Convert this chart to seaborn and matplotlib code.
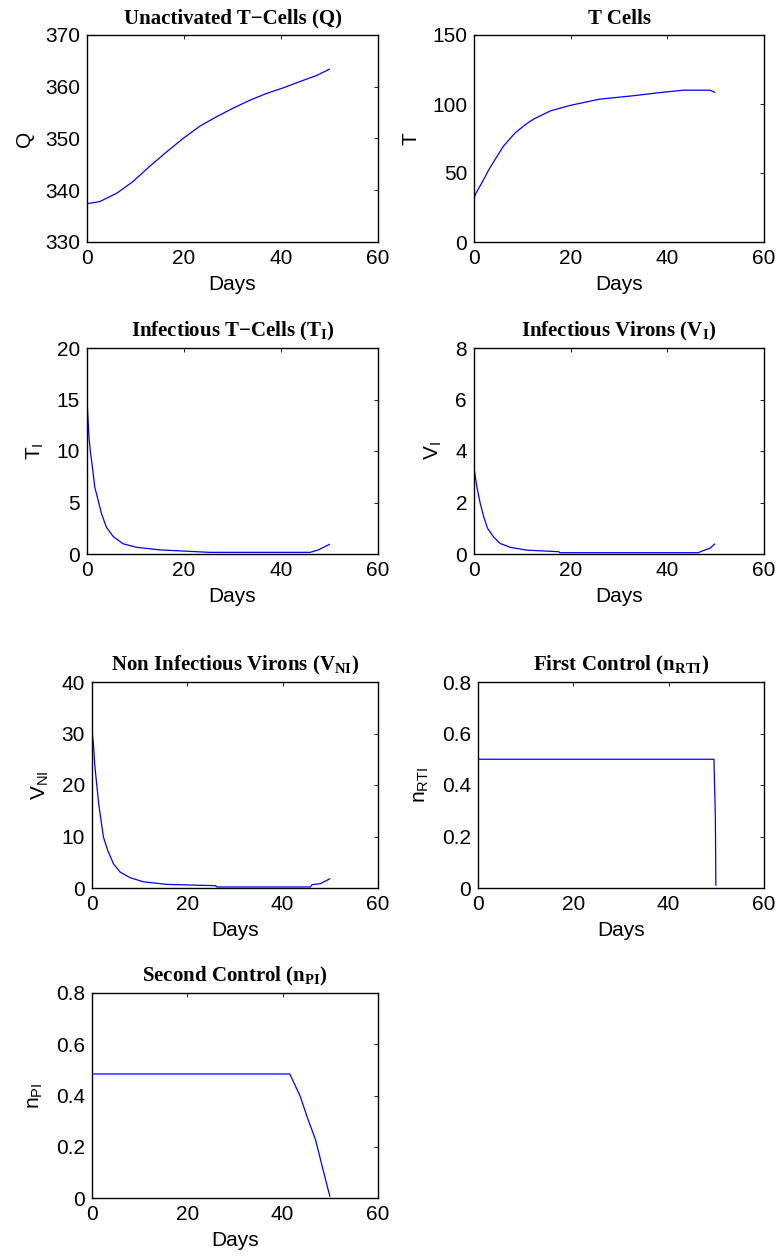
import matplotlib
matplotlib.use("Agg")
import matplotlib.pyplot as plt
import seaborn as sns

# data
q_days = [0, 2.6, 6.1, 9.5, 12.9, 16.4, 19.8, 23.3, 26.7, 30.2, 33.6, 37, 40.5, 43.9, 47.4, 50]
q_vals = [337.4, 337.8, 339.4, 341.7, 344.6, 347.4, 350, 352.4, 354.2, 355.9, 357.4, 358.7, 359.8, 361, 362.2, 363.4]

t_days = [0, 0.5, 1, 2, 3, 4.4, 6.1, 8.5, 10.6, 12.3, 15.8, 19.9, 26, 33, 38.5, 43.3, 48.8, 49.8]
t_vals = [32, 36, 39, 45.3, 52, 60, 69.5, 79, 85, 89, 95, 99, 103.5, 106, 108.3, 110, 110, 108.5]

ti_days = [0, 0.2, 0.4, 0.7, 1.1, 1.6, 2.3, 3, 4, 5.4, 7.4, 10.2, 15, 25.3, 46, 47.7, 50]
ti_vals = [14.9, 13.2, 11.4, 9.9, 8.5, 6.5, 5.2, 3.9, 2.6, 1.7, 1.0, 0.65, 0.4, 0.16, 0.16, 0.4, 0.94]

vi_days = [0, 0.07, 0.6, 1.3, 2, 2.8, 4.1, 5.4, 7.5, 10.9, 17.5, 17.8, 46.4, 47.4, 48.8, 49.8]
vi_vals = [7.1, 3.26, 2.6, 1.96, 1.45, 1.0, 0.65, 0.41, 0.26, 0.15, 0.09, 0.05, 0.05, 0.13, 0.22, 0.39]

vni_days = [0, 0.35, 0.56, 0.9, 1.4, 1.9, 2.4, 3.3, 4.5, 5.9, 8, 10.8, 15.7, 25.9, 26.2, 45.8, 46.2, 47.9, 49.9]
vni_vals = [30.6, 27.4, 24.1, 20.9, 16.4, 13.1, 9.9, 7.3, 4.7, 3.1, 2.0, 1.2, 0.7, 0.45, 0.2, 0.2, 0.65, 0.84, 1.8]

nrti_days = [0, 49.5, 49.8, 49.9]
nrti_vals = [0.5, 0.5, 0.27, 0.01]

npi_days = [0, 41.5, 43.7, 45.1, 46.9, 48.3, 49.9]
npi_vals = [0.484, 0.484, 0.396, 0.318, 0.227, 0.123, 0.006]

panels = [
    ("Unactivated T\u2212Cells (Q)", "Q", q_days, q_vals, (330, 370), [330, 340, 350, 360, 370]),
    ("T Cells", "T", t_days, t_vals, (0, 150), [0, 50, 100, 150]),
    ("Infectious T\u2212Cells ($\\mathregular{T_I}$)", "$\\mathregular{T_I}$", ti_days, ti_vals, (0, 20), [0, 5, 10, 15, 20]),
    ("Infectious Virons ($\\mathregular{V_I}$)", "$\\mathregular{V_I}$", vi_days, vi_vals, (0, 8), [0, 2, 4, 6, 8]),
    ("Non Infectious Virons ($\\mathregular{V_{NI}}$)", "$\\mathregular{V_{NI}}$", vni_days, vni_vals, (0, 40), [0, 10, 20, 30, 40]),
    ("First Control ($\\mathregular{n_{RTI}}$)", "$\\mathregular{n_{RTI}}$", nrti_days, nrti_vals, (0, 0.8), [0, 0.2, 0.4, 0.6, 0.8]),
    ("Second Control ($\\mathregular{n_{PI}}$)", "$\\mathregular{n_{PI}}$", npi_days, npi_vals, (0, 0.8), [0, 0.2, 0.4, 0.6, 0.8]),
]

# axes boxes in pixels: left, top, right, bottom
boxes = [
    (87, 35, 378, 242), (474, 35, 764, 242),
    (87, 348, 378, 554), (474, 348, 764, 554),
    (92, 682, 378, 888), (478, 682, 764, 888),
    (92, 993, 378, 1198),
]

sns.set_theme(style="white")
plt.rcParams["font.family"] = ["Liberation Sans", "DejaVu Sans"]
plt.rcParams["mathtext.default"] = "regular"
plt.rcParams["xtick.direction"] = "in"
plt.rcParams["ytick.direction"] = "in"

W, H = 783, 1259
fig = plt.figure(figsize=(W / 100, H / 100), dpi=100)

for (title, ylab, x, y, ylim, yticks), (l, t, r, b) in zip(panels, boxes):
    ax = fig.add_axes([l / W, 1 - b / H, (r - l) / W, (b - t) / H])
    sns.lineplot(x=x, y=y, ax=ax, color="blue", linewidth=0.9, errorbar=None)
    ax.set_xlim(0, 60)
    ax.set_ylim(*ylim)
    ax.set_xticks([0, 20, 40, 60])
    ax.set_yticks(yticks)
    ax.set_yticklabels([f"{v:g}" for v in yticks])
    ax.tick_params(axis="both", which="both", direction="in", length=3, width=0.6,
                   top=True, right=True, labelsize=15, color="black", labelcolor="black", pad=5)
    for s in ax.spines.values():
        s.set_color("black")
        s.set_linewidth(1.0)
    ax.set_xlabel("Days", fontsize=15, color="black", labelpad=5)
    ax.set_ylabel(ylab, fontsize=15, color="black", labelpad=8)
    ax.set_title(title, fontsize=15, fontweight="bold", family=["Liberation Serif"], color="black", pad=8)

fig.savefig("out.png", dpi=100)
